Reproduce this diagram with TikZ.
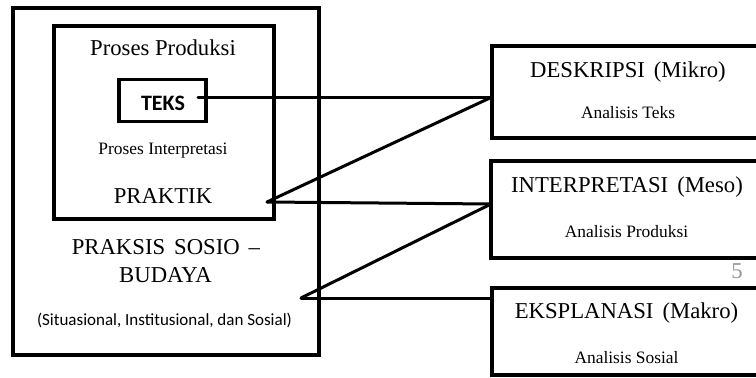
\documentclass[tikz,border=0pt]{standalone}
\usepackage{fontspec}
\setmainfont{Liberation Serif}
\newfontfamily\calib{Carlito}
\definecolor{pagegray}{RGB}{150,150,150}
\begin{document}
\begin{tikzpicture}[x=1pt,y=-1pt,
  box/.style={draw=black,line width=4pt,inner sep=0pt,fill=none},
  conn/.style={draw=black,line width=3pt,line cap=round,line join=round},
  big/.style={font=\fontsize{22.7}{26}\selectfont,anchor=base,inner sep=0pt},
  small/.style={font=\fontsize{17.4}{20}\selectfont,anchor=base,inner sep=0pt}]
\useasboundingbox (0,0) rectangle (756,378);
\clip (0,0) rectangle (756,378);
\fill[white] (0,0) rectangle (756,378);
% left boxes
\node[box,minimum width=306pt,minimum height=347pt] (outer) at (166,181.5) {};
\node[box,minimum width=220pt,minimum height=193pt] (inner) at (164,122.5) {};
\node[box,minimum width=87pt,minimum height=42pt,line width=3.5pt] (teksbox) at (162.5,100.5) {};
% right boxes
\node[box,minimum width=272pt,minimum height=92pt] (desk) at (628,92) {};
\node[box,minimum width=272pt,minimum height=97pt] (interp) at (627,209.5) {};
\node[box,minimum width=272pt,minimum height=87pt] (ekspl) at (628,331.5) {};
% texts left
\node[big] (prod) at (163,55) {Proses Produksi};
\node[anchor=base,inner sep=0pt,font=\calib\bfseries\fontsize{22}{26}\selectfont] (teks) at (163,110) {TEKS};
\node[small] (interpt) at (163,154) {Proses Interpretasi};
\node[big] (praktik) at (163,203) {PRAKTIK};
\node[big] (praksis) at (166,254) {PRAKSIS\hspace{9pt}SOSIO\hspace{9pt}--};
\node[big] (budaya) at (165.5,282) {BUDAYA};
\node[anchor=base,inner sep=0pt,font=\calib\fontsize{17}{20}\selectfont] (situ) at (164.5,325) {(Situasional, Institusional, dan Sosial)};
% texts right
\node[big] (deskt) at (628,77) {DESKRIPSI\hspace{9pt}(Mikro)};
\node[small] (ateks) at (628,118) {Analisis Teks};
\node[big] (interptt) at (627,192) {INTERPRETASI\hspace{9pt}(Meso)};
\node[small] (aprod) at (626.5,237) {Analisis Produksi};
\node[big] (eksplt) at (626.5,318) {EKSPLANASI\hspace{9pt}(Makro)};
\node[small] (asos) at (626.5,363) {Analisis Sosial};
\node[big,text=pagegray] (pagenum) at (737,278) {5};
% connector points
\coordinate (tA) at (198,97);
\coordinate (pA) at (267,202);
\coordinate (sA) at (301,298);
\coordinate (dIn) at (492,97);
\coordinate (iIn) at (491,204);
\coordinate (eIn) at (492,298);
\draw[conn] (tA) -- (dIn);
\draw[conn] (pA) -- (dIn);
\draw[conn] (pA) -- (iIn);
\draw[conn] (sA) -- (iIn);
\draw[conn] (sA) -- (eIn);
\end{tikzpicture}
\end{document}
